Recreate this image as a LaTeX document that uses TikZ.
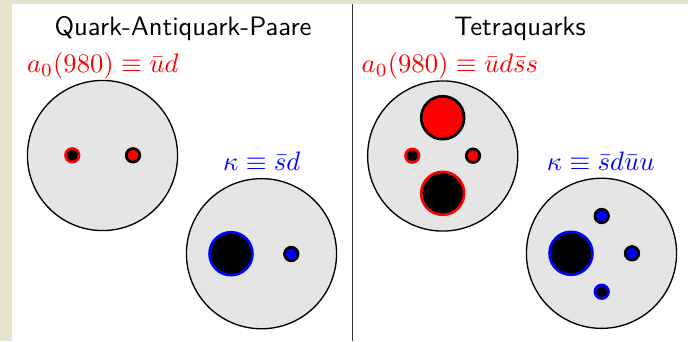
\documentclass[tikz,border=0pt]{standalone}
\usepackage{amsmath, amssymb}
\usepackage{xcolor}
\usepackage{tikz}
\definecolor{slideBg}{RGB}{229,229,206}
\definecolor{hadR}{RGB}{255,0,0}
\definecolor{hadB}{RGB}{0,0,255}
\tikzset{
  hadron/.style={circle, draw=black, line width=0.5pt, fill=black!10, minimum size=56.3pt, inner sep=0pt},
  qsmall/.style={circle, line width=1pt, minimum size=5.1pt, inner sep=0pt},
  qbig/.style={circle, line width=1pt, minimum size=16.1pt, inner sep=0pt},
  quark/.style={draw=black, fill=#1},
  antiquark/.style={draw=#1, fill=black},
  mlabel/.style={inner sep=0pt, font=\normalsize}
}
\begin{document}
\begin{tikzpicture}[x=0.375pt, y=-0.375pt]
\useasboundingbox (0,0) rectangle (688,341);
\fill[slideBg] (0,0) rectangle (688,341);
\fill[white] (12.3,4) rectangle (688,341);
\draw[line width=0.4pt, black!80] (352.3,4) -- (352.3,341);
% titles
\node[anchor=base, font=\sffamily, inner sep=0pt] (titleL) at (183,35) {Quark-Antiquark-Paare};
\node[anchor=base, font=\sffamily, inner sep=0pt] (titleR) at (520,35) {Tetraquarks};
% quark-antiquark pairs
\node[hadron] (aL) at (102.5,155.5) {};
\node[mlabel, hadR, anchor=base west] (aLlab) at (26.5,72) {$a_0(980)\equiv\bar{u}d$};
\node[qsmall, antiquark=hadR] (aLu) at (72.3,155.3) {};
\node[qsmall, quark=hadR] (aLd) at (133,155.3) {};
\node[hadron] (kL) at (261.5,253.7) {};
\node[mlabel, hadB, anchor=base] (kLlab) at (261.7,170) {$\kappa\equiv\bar{s}d$};
\node[qbig, antiquark=hadB] (kLs) at (231,253.7) {};
\node[qsmall, quark=hadB] (kLd) at (291.3,254) {};
% tetraquarks
\node[hadron] (aR) at (442.7,156) {};
\node[mlabel, hadR, anchor=base west] (aRlab) at (361.2,72) {$a_0(980)\equiv\bar{u}d\bar{s}s$};
\node[qbig, quark=hadR] (aRs) at (442.7,117.7) {};
\node[qsmall, antiquark=hadR] (aRu) at (412.3,155.7) {};
\node[qsmall, quark=hadR] (aRd) at (473,155.7) {};
\node[qbig, antiquark=hadR] (aRsb) at (442.7,193.3) {};
\node[hadron] (kR) at (601.5,253.3) {};
\node[mlabel, hadB, anchor=base] (kRlab) at (600.7,170.5) {$\kappa\equiv\bar{s}d\bar{u}u$};
\node[qbig, antiquark=hadB] (kRs) at (571,253.3) {};
\node[qsmall, quark=hadB] (kRu) at (601.7,216) {};
\node[qsmall, quark=hadB] (kRd) at (632,253.3) {};
\node[qsmall, antiquark=hadB] (kRub) at (601.7,291.7) {};
\end{tikzpicture}
\end{document}
